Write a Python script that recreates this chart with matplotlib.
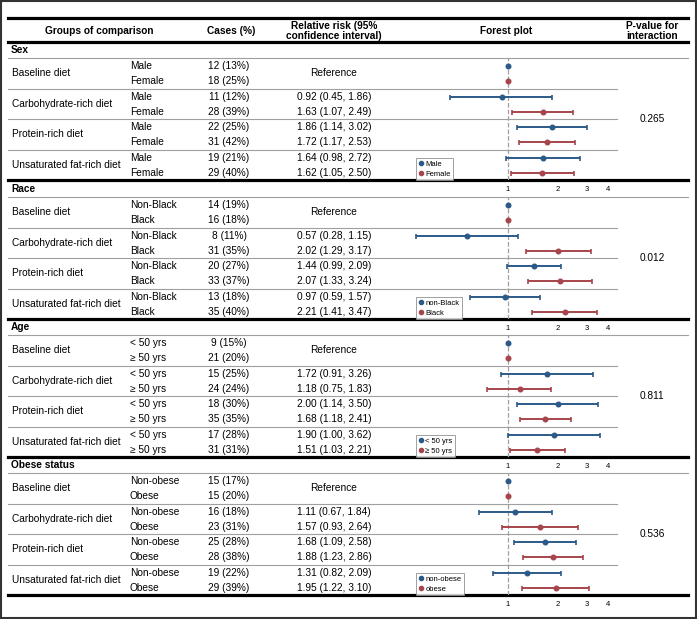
import matplotlib
matplotlib.use('Agg')
import matplotlib.pyplot as plt
from matplotlib.lines import Line2D
from matplotlib.patches import Rectangle
from matplotlib.ticker import NullLocator

plt.rcParams['font.family'] = ['Liberation Sans', 'DejaVu Sans']

# Datos de la tabla
secciones = ['Sex', 'Race', 'Age', 'Obese status']
grupos = ['Baseline diet', 'Carbohydrate-rich diet', 'Protein-rich diet', 'Unsaturated fat-rich diet']
subgrupos = [['Male', 'Female'], ['Non-Black', 'Black'], ['< 50 yrs', '≥ 50 yrs'], ['Non-obese', 'Obese']]
leyendas = [['Male', 'Female'], ['non-Black', 'Black'], ['< 50 yrs', '≥ 50 yrs'], ['non-obese', 'obese']]

casos_sex = ['12 (13%)', '18 (25%)', '11 (12%)', '28 (39%)', '22 (25%)', '31 (42%)', '19 (21%)', '29 (40%)']
casos_race = ['14 (19%)', '16 (18%)', '8 (11%)', '31 (35%)', '20 (27%)', '33 (37%)', '13 (18%)', '35 (40%)']
casos_age = ['9 (15%)', '21 (20%)', '15 (25%)', '24 (24%)', '18 (30%)', '35 (35%)', '17 (28%)', '31 (31%)']
casos_obese = ['15 (17%)', '15 (20%)', '16 (18%)', '23 (31%)', '25 (28%)', '28 (38%)', '19 (22%)', '29 (39%)']

rr_sex = [1, 1, 0.92, 1.63, 1.86, 1.72, 1.64, 1.62]
lo_sex = [1, 1, 0.45, 1.07, 1.14, 1.17, 0.98, 1.05]
hi_sex = [1, 1, 1.86, 2.49, 3.02, 2.53, 2.72, 2.50]

rr_race = [1, 1, 0.57, 2.02, 1.44, 2.07, 0.97, 2.21]
lo_race = [1, 1, 0.28, 1.29, 0.99, 1.33, 0.59, 1.41]
hi_race = [1, 1, 1.15, 3.17, 2.09, 3.24, 1.57, 3.47]

rr_age = [1, 1, 1.72, 1.18, 2.00, 1.68, 1.90, 1.51]
lo_age = [1, 1, 0.91, 0.75, 1.14, 1.18, 1.00, 1.03]
hi_age = [1, 1, 3.26, 1.83, 3.50, 2.41, 3.62, 2.21]

rr_obese = [1, 1, 1.11, 1.57, 1.68, 1.88, 1.31, 1.95]
lo_obese = [1, 1, 0.67, 0.93, 1.09, 1.23, 0.82, 1.22]
hi_obese = [1, 1, 1.84, 2.64, 2.58, 2.86, 2.09, 3.10]

p_valores = ['0.265', '0.012', '0.811', '0.536']
ticks = [1, 2, 3, 4]

casos = [casos_sex, casos_race, casos_age, casos_obese]
rrs = [rr_sex, rr_race, rr_age, rr_obese]
los = [lo_sex, lo_race, lo_age, lo_obese]
his = [hi_sex, hi_race, hi_age, hi_obese]

colores = ['#2c5a88', '#a6454b']
gris = '#a0a0a0'

W, H = 697, 619
fig = plt.figure(figsize=(W / 100, H / 100), dpi=100)

# Eje de fondo en pixeles para la tabla
tab = fig.add_axes([0, 0, 1, 1])
tab.set_xlim(0, W)
tab.set_ylim(H, 0)
tab.axis('off')

# Marco de la imagen
fig.patches.append(Rectangle((0.002, 0.002), 0.996, 0.996, transform=fig.transFigure,
                             fill=False, edgecolor='#333333', linewidth=1.5))

x0, x1, xf = 8, 688, 617
tab.plot([x0, x1], [18, 18], color='black', lw=2.3)
tab.plot([x0, x1], [42, 42], color='black', lw=2.3)

# Encabezados
fs = 7.3
tab.text(99, 31, 'Groups of comparison', ha='center', va='center', fontsize=fs, fontweight='bold')
tab.text(231, 31, 'Cases (%)', ha='center', va='center', fontsize=fs, fontweight='bold')
tab.text(334, 31, 'Relative risk (95%\nconfidence interval)', ha='center', va='center',
         fontsize=fs, fontweight='bold', linespacing=1.1)
tab.text(506, 31, 'Forest plot', ha='center', va='center', fontsize=fs, fontweight='bold')
tab.text(652, 31, 'P-value for\ninteraction', ha='center', va='center',
         fontsize=fs, fontweight='bold', linespacing=1.1)

G_list = [58, 197, 335, 473]  # linea gris bajo el titulo de cada seccion
alto = 122
paso = alto / 4

for s, G in enumerate(G_list):
    # Titulo de la seccion
    tab.text(11, G - 8, secciones[s], ha='left', va='center', fontsize=fs, fontweight='bold')
    tab.plot([x0, x1], [G, G], color=gris, lw=0.8)
    for i in range(1, 4):
        tab.plot([x0, xf], [G + paso * i, G + paso * i], color=gris, lw=0.8)
    tab.plot([x0, x1], [G + alto, G + alto], color='black', lw=2.3)

    for i, grupo in enumerate(grupos):
        yc = G + paso * i + paso / 2
        tab.text(12, yc, grupo, ha='left', va='center', fontsize=fs)
        if i == 0:
            tab.text(334, yc, 'Reference', ha='center', va='center', fontsize=fs)
        for j in range(2):
            k = 2 * i + j
            y = G + paso * i + paso * (0.27 + 0.5 * j)
            tab.text(130, y, subgrupos[s][j], ha='left', va='center', fontsize=fs)
            tab.text(229, y, casos[s][k], ha='center', va='center', fontsize=fs)
            if i > 0:
                tab.text(334, y, '%.2f (%.2f, %.2f)' % (rrs[s][k], los[s][k], his[s][k]),
                         ha='center', va='center', fontsize=fs)

    tab.text(652, G + alto / 2, p_valores[s], ha='center', va='center', fontsize=fs)

    # Forest plot de la seccion
    ax = fig.add_axes([400 / W, 1 - (G + alto) / H, (xf - 400) / W, alto / H])
    ax.set_facecolor('none')
    ax.set_xscale('log')
    ax.set_xlim(0.225, 4.56)
    ax.set_ylim(alto, 0)
    for sp in ax.spines.values():
        sp.set_visible(False)
    ax.axvline(1, color=gris, ls='--', lw=0.9, zorder=1)
    for k in range(8):
        i, j = k // 2, k % 2
        y = paso * i + paso * (0.27 + 0.5 * j)
        err = [[rrs[s][k] - los[s][k]], [his[s][k] - rrs[s][k]]]
        ax.errorbar([rrs[s][k]], [y], xerr=err, fmt='o', color=colores[j], ms=3.3,
                    elinewidth=1.4, capsize=1.8, capthick=1.2, zorder=3)
    ax.set_xticks(ticks)
    ax.set_xticklabels([str(t) for t in ticks])
    ax.xaxis.set_minor_locator(NullLocator())
    ax.tick_params(axis='x', length=0, pad=4, labelsize=5.5)
    ax.set_yticks([])

    handles = [Line2D([], [], marker='o', ls='none', color=colores[j], ms=3) for j in range(2)]
    leg = ax.legend(handles, leyendas[s], loc='lower left', bbox_to_anchor=(16 / 217, 0.0),
                    borderaxespad=0, fontsize=5.5, frameon=True, fancybox=False,
                    handlelength=0.6, handletextpad=0.3, labelspacing=0.35, borderpad=0.3)
    leg.get_frame().set_edgecolor('#888888')
    leg.get_frame().set_linewidth(0.7)

plt.savefig('out.png', dpi=100)
